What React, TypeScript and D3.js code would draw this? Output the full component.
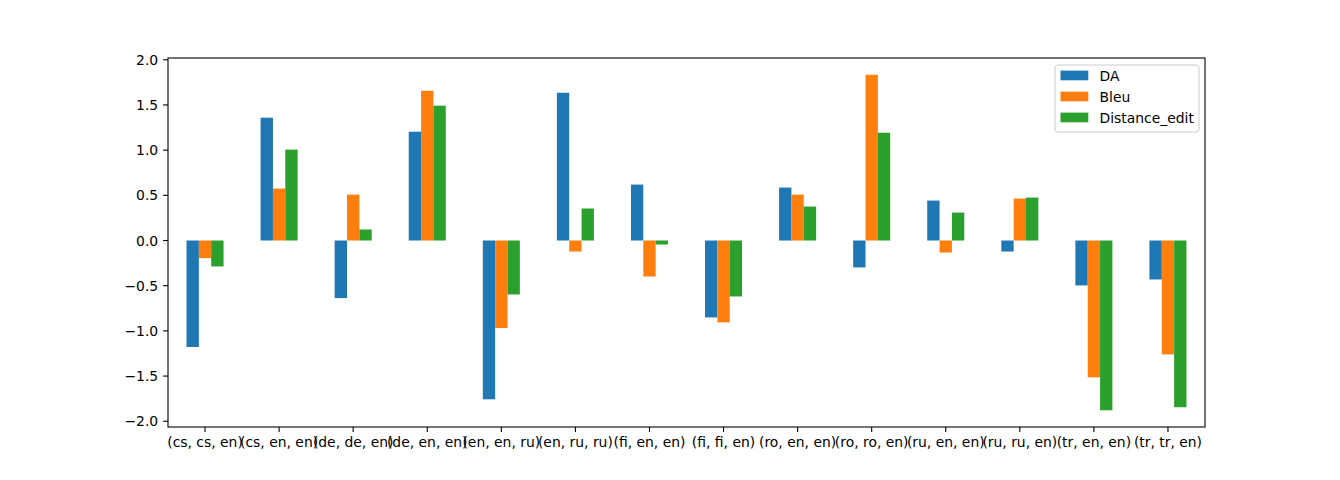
import { useEffect, useRef } from "react";
import * as d3 from "d3";

const CATEGORIES = [
  "(cs, cs, en)", "(cs, en, en)", "(de, de, en)", "(de, en, en)", "(en, en, ru)",
  "(en, ru, ru)", "(fi, en, en)", "(fi, fi, en)", "(ro, en, en)", "(ro, ro, en)",
  "(ru, en, en)", "(ru, ru, en)", "(tr, en, en)", "(tr, tr, en)",
];

const DA = [-1.178, 1.359, -0.637, 1.204, -1.757, 1.635, 0.619, -0.851, 0.586, -0.298, 0.442, -0.122, -0.497, -0.431];
const BLEU = [-0.195, 0.575, 0.508, 1.657, -0.969, -0.122, -0.398, -0.906, 0.508, 1.834, -0.133, 0.464, -1.514, -1.26];
const DISTANCE_EDIT = [-0.287, 1.006, 0.122, 1.492, -0.597, 0.354, -0.044, -0.619, 0.376, 1.193, 0.309, 0.475, -1.878, -1.845];

const SERIES = [
  { name: "DA", values: DA, color: "#1f77b4" },
  { name: "Bleu", values: BLEU, color: "#ff7f0e" },
  { name: "Distance_edit", values: DISTANCE_EDIT, color: "#2ca02c" },
];

const Y_TICKS = [-2.0, -1.5, -1.0, -0.5, 0.0, 0.5, 1.0, 1.5, 2.0];

const FONT = "DejaVu Sans, sans-serif";

export default function App() {
  const svgRef = useRef<SVGSVGElement>(null);

  useEffect(() => {
    document.body.style.margin = "0";
    if (!svgRef.current) return;
    const svg = d3.select(svgRef.current);
    svg.selectAll("*").remove();

    const width = 1340;
    const height = 480;
    const margin = { top: 58, right: 135, bottom: 53, left: 168 };
    const innerW = width - margin.left - margin.right;
    const innerH = height - margin.top - margin.bottom;

    // matplotlib-like 5% margins on the value range
    const all = SERIES.flatMap((s) => s.values);
    const lo = Math.min(0, d3.min(all)!);
    const hi = Math.max(0, d3.max(all)!);
    const pad = (hi - lo) * 0.05;

    const y = d3.scaleLinear().domain([lo - pad, hi + pad]).range([margin.top + innerH, margin.top]);
    const x = d3
      .scaleBand()
      .domain(CATEGORIES)
      .range([margin.left, margin.left + innerW])
      .paddingInner(0.5)
      .paddingOuter(0.25);
    const sub = d3
      .scaleBand()
      .domain(SERIES.map((s) => s.name))
      .range([0, x.bandwidth()]);

    svg.append("rect").attr("width", width).attr("height", height).attr("fill", "#fff");

    // Bars
    SERIES.forEach((s) => {
      svg
        .append("g")
        .selectAll("rect")
        .data(s.values)
        .join("rect")
        .attr("x", (_, i) => x(CATEGORIES[i])! + sub(s.name)!)
        .attr("width", sub.bandwidth())
        .attr("y", (d) => Math.min(y(d), y(0)))
        .attr("height", (d) => Math.abs(y(d) - y(0)))
        .attr("fill", s.color);
    });

    // Frame
    svg
      .append("rect")
      .attr("x", margin.left)
      .attr("y", margin.top)
      .attr("width", innerW)
      .attr("height", innerH)
      .attr("fill", "none")
      .attr("stroke", "#000")
      .attr("stroke-width", 1.1);

    // Y axis
    const yAxis = svg.append("g");
    Y_TICKS.forEach((t) => {
      yAxis
        .append("line")
        .attr("x1", margin.left - 4.9)
        .attr("x2", margin.left)
        .attr("y1", y(t))
        .attr("y2", y(t))
        .attr("stroke", "#000")
        .attr("stroke-width", 1.1);
      yAxis
        .append("text")
        .attr("x", margin.left - 9.8)
        .attr("y", y(t))
        .attr("dy", "0.36em")
        .attr("text-anchor", "end")
        .attr("font-family", FONT)
        .attr("font-size", "13.9px")
        .text(t.toFixed(1).replace("-", "\u2212"));
    });

    // X axis
    const xAxis = svg.append("g");
    CATEGORIES.forEach((c) => {
      const cx = x(c)! + x.bandwidth() / 2;
      xAxis
        .append("line")
        .attr("x1", cx)
        .attr("x2", cx)
        .attr("y1", margin.top + innerH)
        .attr("y2", margin.top + innerH + 4.9)
        .attr("stroke", "#000")
        .attr("stroke-width", 1.1);
      xAxis
        .append("text")
        .attr("x", cx)
        .attr("y", margin.top + innerH + 20)
        .attr("text-anchor", "middle")
        .attr("font-family", FONT)
        .attr("font-size", "13.9px")
        .text(c);
    });

    // Legend
    const lg = svg.append("g").attr("transform", "translate(1055, 65)");
    lg.append("rect")
      .attr("width", 144)
      .attr("height", 67)
      .attr("rx", 3)
      .attr("fill", "#fff")
      .attr("fill-opacity", 0.8)
      .attr("stroke", "#cccccc")
      .attr("stroke-width", 1);
    SERIES.forEach((s, i) => {
      const cy = 10.5 + i * 21;
      lg.append("rect")
        .attr("x", 5.5)
        .attr("y", cy - 4.9)
        .attr("width", 27.8)
        .attr("height", 9.7)
        .attr("fill", s.color);
      lg.append("text")
        .attr("x", 44.5)
        .attr("y", cy)
        .attr("dy", "0.36em")
        .attr("font-family", FONT)
        .attr("font-size", "13.9px")
        .text(s.name);
    });
  }, []);

  return <svg ref={svgRef} width={1340} height={480} style={{ display: "block" }} />;
}
